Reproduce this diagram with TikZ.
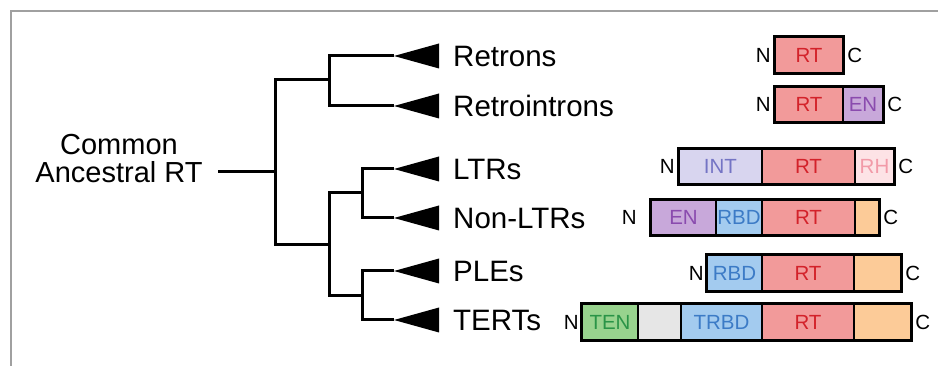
\documentclass[tikz,border=0pt]{standalone}
\usepackage{fontspec}
\setmainfont{Liberation Sans}
\definecolor{rtfill}{HTML}{F29A9A}
\definecolor{rttext}{HTML}{D3222A}
\definecolor{enfill}{HTML}{C8A8DA}
\definecolor{entext}{HTML}{8A4BAE}
\definecolor{intfill}{HTML}{D8D5EF}
\definecolor{inttext}{HTML}{7474C4}
\definecolor{rhfill}{HTML}{FDE3E6}
\definecolor{rhtext}{HTML}{F29AA8}
\definecolor{rbdfill}{HTML}{A3CBEF}
\definecolor{rbdtext}{HTML}{3C7BC6}
\definecolor{ctfill}{HTML}{FCCB98}
\definecolor{tenfill}{HTML}{98D38E}
\definecolor{tentext}{HTML}{2A9447}
\definecolor{grayfill}{HTML}{E6E6E6}
\definecolor{framegray}{HTML}{A0A0A0}
\tikzset{
  treeline/.style={line width=3pt, black},
  leaflabel/.style={anchor=base west, inner sep=0pt, font=\fontsize{29.5}{30}\selectfont},
  clade/.style={fill=black, draw=none},
  seg/.style={inner sep=0pt, minimum height=36pt, font=\fontsize{20.5}{21}\selectfont},
  boxline/.style={line width=3pt, black},
  sepline/.style={line width=1.5pt, black},
  ntext/.style={anchor=east, inner sep=0pt, font=\fontsize{20.5}{21}\selectfont},
  ctext/.style={anchor=west, inner sep=0pt, font=\fontsize{20.5}{21}\selectfont},
}
\begin{document}
\begin{tikzpicture}[x=1pt, y=-1pt]
\useasboundingbox (0,0) rectangle (938,366);
% frame
\draw[framegray, line width=1.2pt] (11,366) -- (11,11) -- (938,11);

% root label
\node[align=center, inner sep=0pt, font=\fontsize{29}{28}\selectfont] (root) at (119,159) {Common\\Ancestral RT};

% tree coordinates
\coordinate (r0) at (218,172);
\coordinate (r1) at (275,172);
\coordinate (a) at (329,80);
\coordinate (b) at (329,245);
\coordinate (c) at (362,193);
\coordinate (d) at (362,296);

% leaf triangles
\foreach \nm/\yy in {retrons/56, retrointrons/106, ltrs/169, nonltrs/218, ples/271, terts/320}{
  \coordinate (\nm tip) at (394,\yy);
  \fill[clade] (394,\yy) -- (439,\yy-12.5) -- (439,\yy+12.5) -- cycle;
}

% root stem
\draw[treeline] (r0) -- (r1);
\draw[treeline, line cap=rect] (r1 |- a) -- (r1 |- b);
\draw[treeline] (r1 |- a) -- (a);
\draw[treeline] (r1 |- b) -- (b);
% top clade
\draw[treeline, line cap=rect] (a |- retronstip) -- (a |- retrointronstip);
\draw[treeline] (a |- retronstip) -- (retronstip);
\draw[treeline] (a |- retrointronstip) -- (retrointronstip);
% bottom clade
\draw[treeline, line cap=rect] (b |- c) -- (b |- d);
\draw[treeline] (b |- c) -- (c);
\draw[treeline] (b |- d) -- (d);
\draw[treeline, line cap=rect] (c |- ltrstip) -- (c |- nonltrstip);
\draw[treeline] (c |- ltrstip) -- (ltrstip);
\draw[treeline] (c |- nonltrstip) -- (nonltrstip);
\draw[treeline, line cap=rect] (d |- plestip) -- (d |- tertstip);
\draw[treeline] (d |- plestip) -- (plestip);
\draw[treeline] (d |- tertstip) -- (tertstip);

% leaf labels
\node[leaflabel] (lretrons) at (453,66.5) {Retrons};
\node[leaflabel] (lretrointrons) at (453,116.5) {Retrointrons};
\node[leaflabel] (lltrs) at (453,179.5) {LTRs};
\node[leaflabel] (lnonltrs) at (453,228.5) {Non-LTRs};
\node[leaflabel] (lples) at (453,281.5) {PLEs};
\node[leaflabel] (lterts) at (453,330.5) {TERTs};

% ---- Retrons
\node[seg, fill=rtfill, text=rttext, minimum width=68pt] (a1) at (809,55) {RT};
\draw[boxline] (a1.north west) rectangle (a1.south east);
\node[ntext] at ([xshift=-4pt]a1.west) {N};
\node[ctext] at ([xshift=4pt]a1.east) {C};

% ---- Retrointrons
\node[seg, fill=rtfill, text=rttext, minimum width=68pt] (b1) at (809,104.5) {RT};
\node[seg, fill=enfill, text=entext, minimum width=40pt] (b2) at (863,104.5) {EN};
\draw[sepline] (b1.north east) -- (b1.south east);
\draw[boxline] (b1.north west) rectangle (b2.south east);
\node[ntext] at ([xshift=-4pt]b1.west) {N};
\node[ctext] at ([xshift=4pt]b2.east) {C};

% ---- LTRs
\node[seg, fill=intfill, text=inttext, minimum width=83pt] (c1) at (720.5,166.5) {INT};
\node[seg, fill=rtfill, text=rttext, minimum width=93pt] (c2) at (808.5,166.5) {RT};
\node[seg, fill=rhfill, text=rhtext, minimum width=39pt] (c3) at (874.5,166.5) {RH};
\draw[sepline] (c1.north east) -- (c1.south east) (c2.north east) -- (c2.south east);
\draw[boxline] (c1.north west) rectangle (c3.south east);
\node[ntext] at ([xshift=-4pt]c1.west) {N};
\node[ctext] at ([xshift=4pt]c3.east) {C};

% ---- Non-LTRs
\node[seg, fill=enfill, text=entext, minimum width=65pt] (d1) at (683.5,217.5) {EN};
\node[seg, fill=rbdfill, text=rbdtext, minimum width=46pt] (d2) at (739,217.5) {RBD};
\node[seg, fill=rtfill, text=rttext, minimum width=93pt] (d3) at (808.5,217.5) {RT};
\node[seg, fill=ctfill, minimum width=24pt] (d4) at (867,217.5) {};
\draw[sepline] (d1.north east) -- (d1.south east) (d2.north east) -- (d2.south east) (d3.north east) -- (d3.south east);
\draw[boxline] (d1.north west) rectangle (d4.south east);
\node[ntext] at ([xshift=-14pt]d1.west) {N};
\node[ctext] at ([xshift=4pt]d4.east) {C};

% ---- PLEs
\node[seg, fill=rbdfill, text=rbdtext, minimum width=55pt] (e1) at (734.5,273) {RBD};
\node[seg, fill=rtfill, text=rttext, minimum width=92pt] (e2) at (808,273) {RT};
\node[seg, fill=ctfill, minimum width=47pt] (e3) at (877.5,273) {};
\draw[sepline] (e1.north east) -- (e1.south east) (e2.north east) -- (e2.south east);
\draw[boxline] (e1.north west) rectangle (e3.south east);
\node[ntext] at ([xshift=-3pt]e1.west) {N};
\node[ctext] at ([xshift=4pt]e3.east) {C};

% ---- TERTs
\node[seg, fill=tenfill, text=tentext, minimum width=56pt] (f1) at (610,322) {TEN};
\node[seg, fill=grayfill, minimum width=43pt] (f2) at (659.5,322) {};
\node[seg, fill=rbdfill, text=rbdtext, minimum width=81pt] (f3) at (721.5,322) {TRBD};
\node[seg, fill=rtfill, text=rttext, minimum width=92pt] (f4) at (808,322) {RT};
\node[seg, fill=ctfill, minimum width=57pt] (f5) at (882.5,322) {};
\draw[sepline] (f1.north east) -- (f1.south east) (f2.north east) -- (f2.south east) (f3.north east) -- (f3.south east) (f4.north east) -- (f4.south east);
\draw[boxline] (f1.north west) rectangle (f5.south east);
\node[ntext] at ([xshift=-3pt]f1.west) {N};
\node[ctext] at ([xshift=4pt]f5.east) {C};
\end{tikzpicture}
\end{document}
